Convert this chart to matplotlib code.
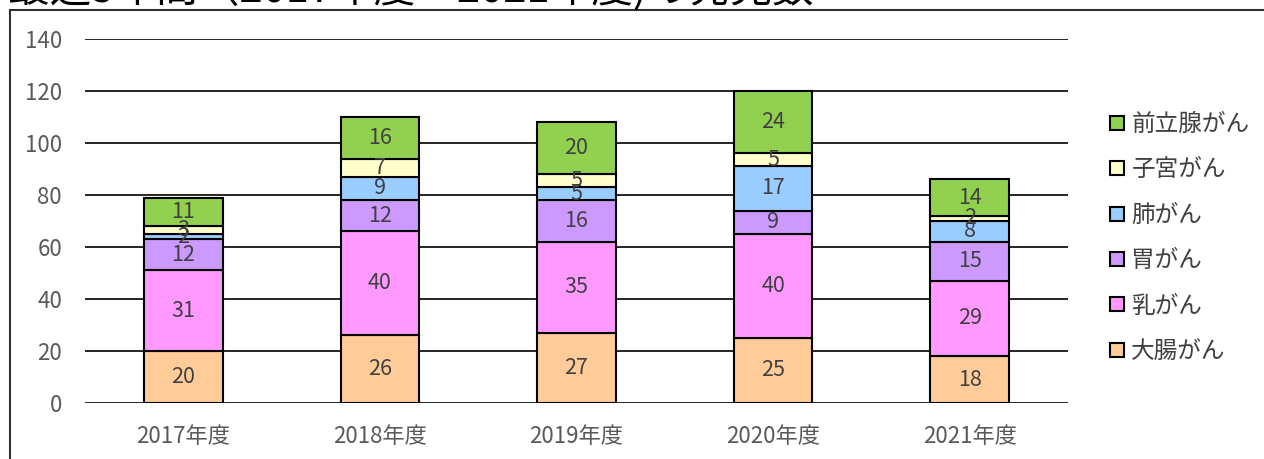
import matplotlib
matplotlib.use("Agg")
import matplotlib.pyplot as plt
from matplotlib.lines import Line2D
import numpy as np

plt.rcParams['font.family'] = ['Noto Sans CJK JP', 'DejaVu Sans']

years = ["2017年度", "2018年度", "2019年度", "2020年度", "2021年度"]
# 下から順に積み上げ
daichou = [20, 26, 27, 25, 18]
nyuu = [31, 40, 35, 40, 29]
i_gan = [12, 12, 16, 9, 15]
hai = [2, 9, 5, 17, 8]
shikyuu = [3, 7, 5, 5, 2]
zenritsusen = [11, 16, 20, 24, 14]

series = [
    ("大腸がん", daichou, "#FFCC99"),
    ("乳がん", nyuu, "#FF99FF"),
    ("胃がん", i_gan, "#CC99FF"),
    ("肺がん", hai, "#99CCFF"),
    ("子宮がん", shikyuu, "#FFFFCC"),
    ("前立腺がん", zenritsusen, "#92D050"),
]

fig = plt.figure(figsize=(12.64, 4.59), dpi=100)
ax = fig.add_axes([85 / 1264, 1 - 403 / 459, 983 / 1264, 364 / 459])

x = np.arange(len(years))
bottom = np.zeros(len(years))
handles = []
for name, vals, color in series:
    vals = np.array(vals)
    ax.bar(x, vals, bottom=bottom, width=0.4, color=color, edgecolor="black",
           linewidth=1.5, zorder=3)
    for xi, b, v in zip(x, bottom, vals):
        ax.text(xi, b + v / 2, str(v), ha="center", va="center",
                fontsize=15.5, color="#404040", zorder=4)
    bottom += vals
    handles.append(Line2D([], [], marker="s", linestyle="none", markersize=10,
                          markerfacecolor=color, markeredgecolor="black",
                          markeredgewidth=1.5, label=name))

ax.set_xlim(-0.5, 4.5)
ax.set_ylim(0, 140)
ax.set_yticks(range(0, 141, 20))
ax.set_xticks(x)
ax.set_xticklabels(years)
ax.grid(axis="y", color="black", linewidth=1.2, zorder=0)
for s in ax.spines.values():
    s.set_visible(False)
ax.tick_params(length=0, labelsize=16, labelcolor="#595959")
ax.tick_params(axis="x", pad=16)
ax.tick_params(axis="y", pad=16.5)

fig.legend(handles=handles[::-1], loc="center left", bbox_to_anchor=(1096 / 1264, 1 - 238 / 459),
           frameon=False, fontsize=17, labelspacing=0.95, handletextpad=0.1,
           handlelength=1.0, labelcolor="#404040", borderaxespad=0)

# 外枠
fig.add_artist(Line2D([10 / 1264, 10 / 1264], [0, 1 - 10 / 459], color="#303030", linewidth=1.5))
fig.add_artist(Line2D([10 / 1264, 1], [1 - 10 / 459, 1 - 10 / 459], color="#303030", linewidth=1.5))

# 上端で切れているタイトル
fig.text(8 / 1264, 1 - 2 / 459, "最近5年間（2017年度～2021年度)の発見数", ha="left", va="baseline",
         fontsize=30, color="black")

fig.savefig("out.png", dpi=100)
